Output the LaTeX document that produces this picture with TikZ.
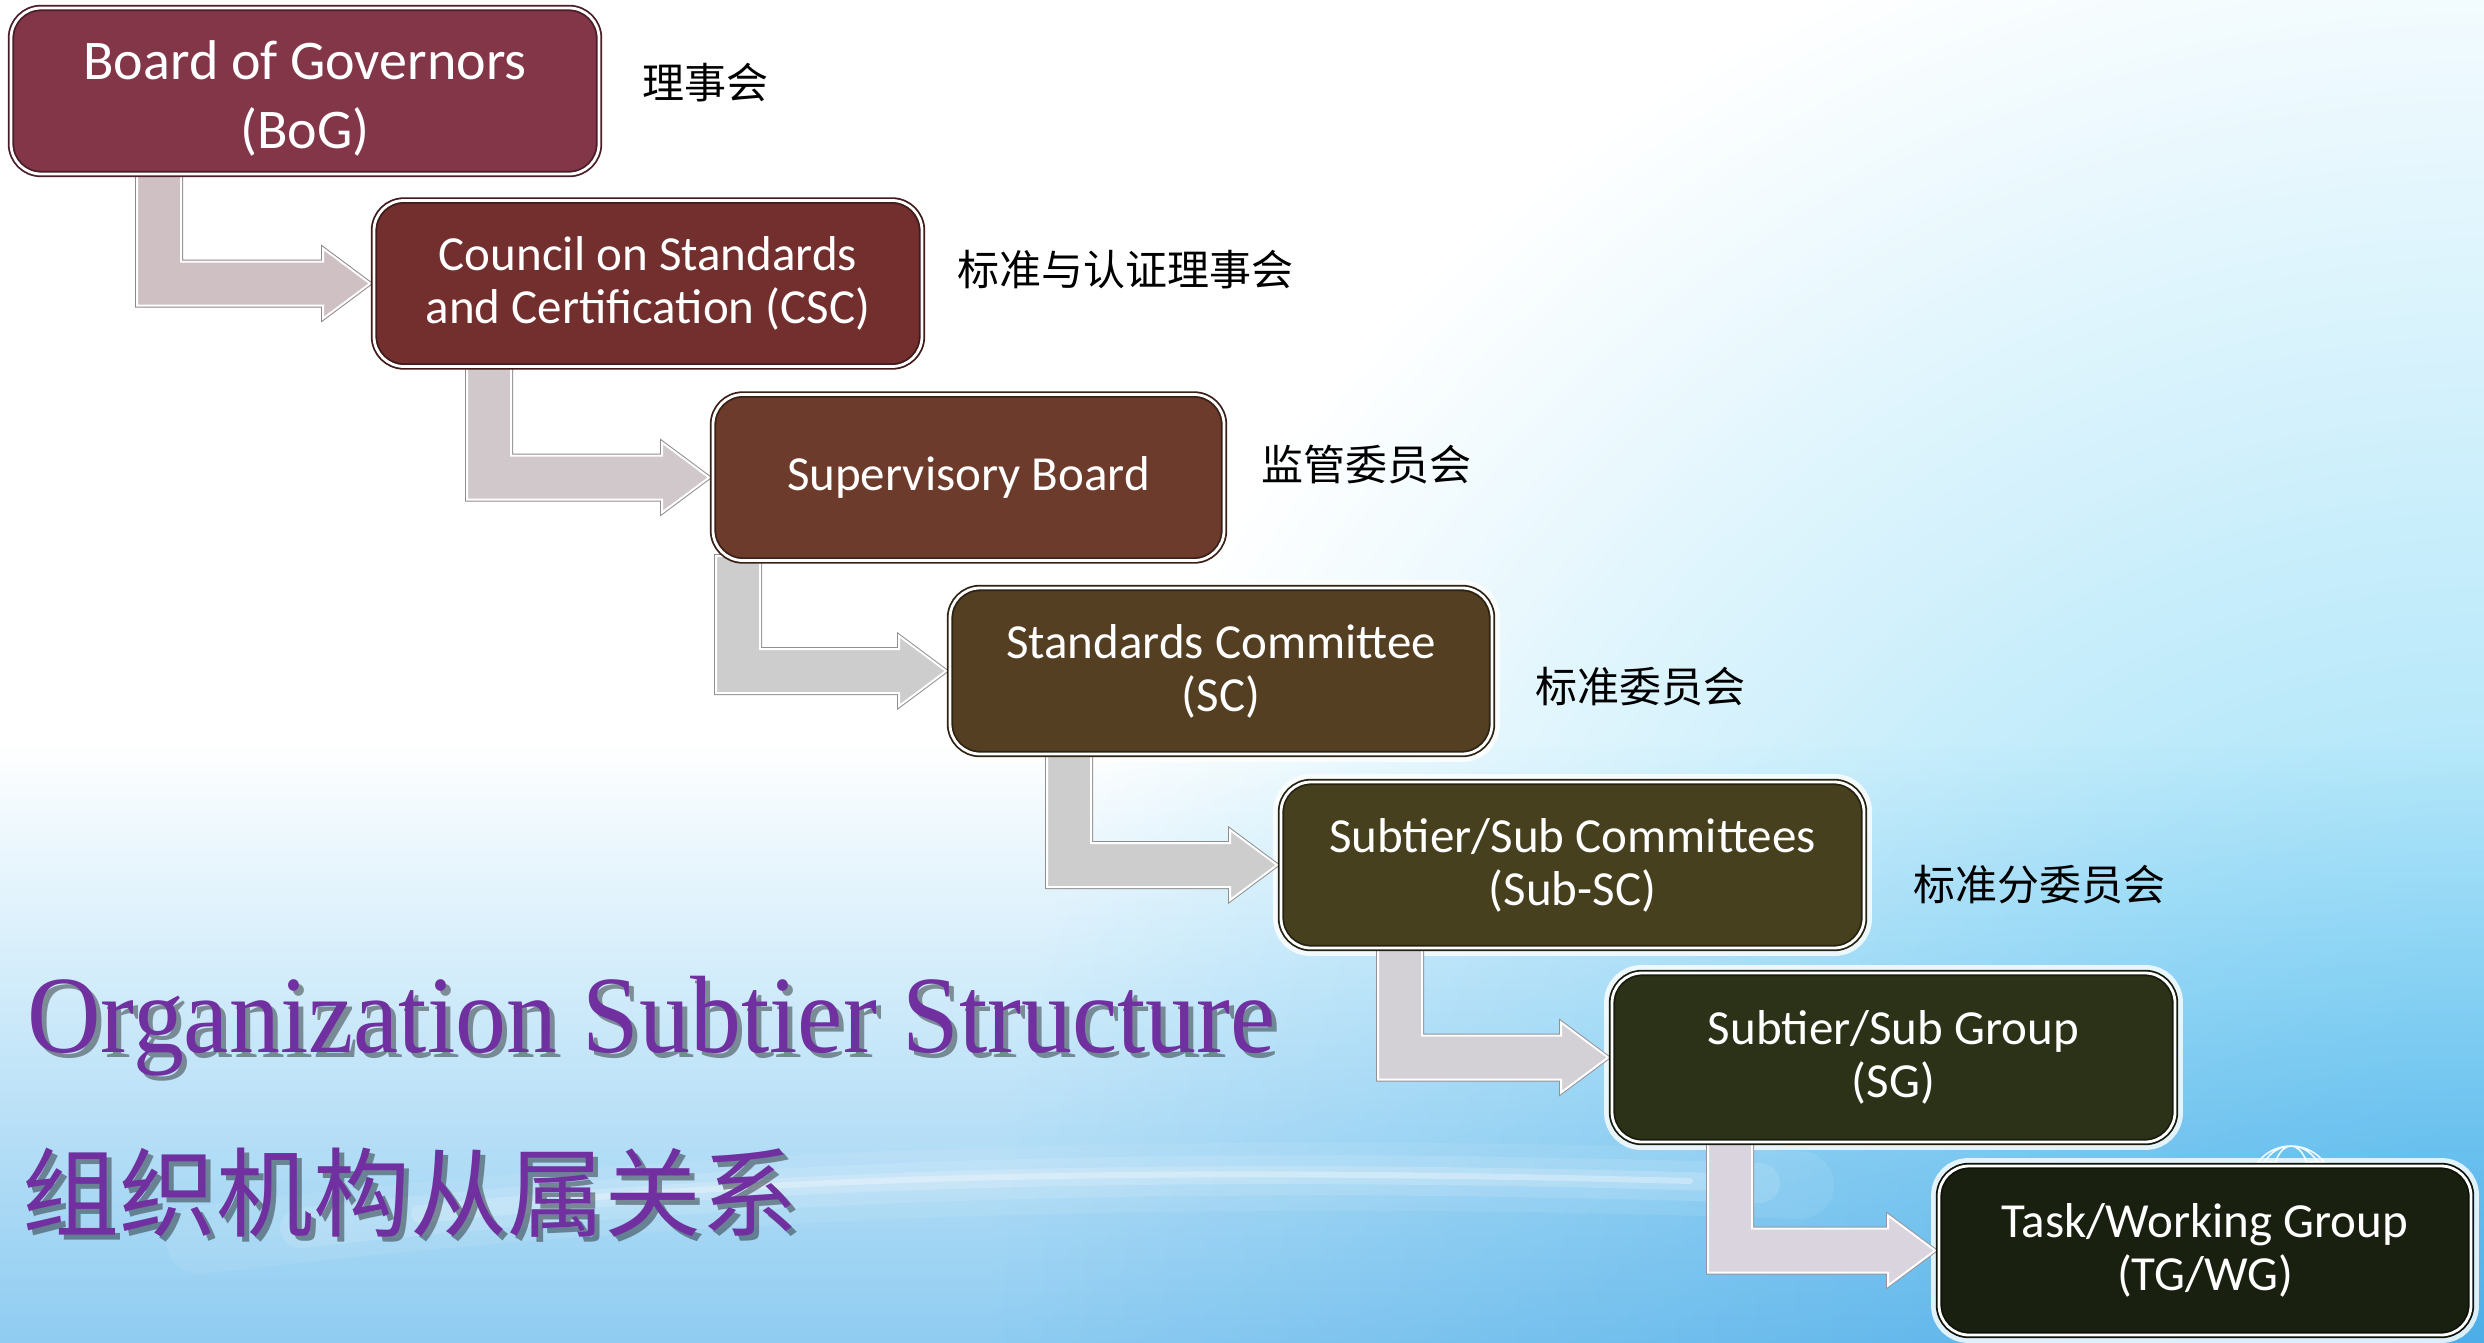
\documentclass[tikz,border=0pt]{standalone}
\usepackage{fontspec}
\usepackage{graphicx}
\usetikzlibrary{calc}
\newfontfamily\boxfont{Carlito}
\newfontfamily\serifttl{Liberation Serif}
\newfontfamily\cjk{Noto Sans CJK SC}
\definecolor{cBoG}{HTML}{843649}
\definecolor{cCSC}{HTML}{722F2E}
\definecolor{cSB}{HTML}{6C3B2C}
\definecolor{cSC}{HTML}{543F22}
\definecolor{cSub}{HTML}{46401F}
\definecolor{cSG}{HTML}{2B3218}
\definecolor{cTG}{HTML}{1A200F}
\definecolor{aOne}{HTML}{CFC0C4}
\definecolor{aTwo}{HTML}{D0C8CA}
\definecolor{aGray}{HTML}{CDCDCD}
\definecolor{aFive}{HTML}{D3D0D6}
\definecolor{aSix}{HTML}{DAD4DE}
\definecolor{skyA}{HTML}{D6EEFB}
\definecolor{skyB}{HTML}{8FCCF1}
\definecolor{skyC}{HTML}{87D9F6}
\definecolor{ttl}{HTML}{7030A0}
\pgfdeclareverticalshading{skyv}{100bp}{color(0bp)=(skyB); color(25bp)=(skyB);
  color(56.75bp)=(skyA); color(75bp)=(white); color(100bp)=(white)}
\pgfdeclarelayer{sky}
\pgfdeclarelayer{under}
\pgfsetlayers{sky,under,main}
\tikzset{
  orgbox/.style={rounded corners=15pt, minimum height=83pt, inner sep=0pt,
    text=white, align=center, fill=#1, draw=#1!55!black, double=white,
    double distance=1.4pt, line width=0.9pt,
    font=\boxfont\fontsize{24.5}{26.5}\selectfont},
  lbl/.style={anchor=base west, inner sep=0pt, font=\cjk\fontsize{21}{21}\selectfont, text=black},
  glow/.style={draw=white, line width=7pt, opacity=0.8, rounded corners=15pt},
  swoosh/.style={white, line cap=round},
}
\newcommand\elbowpath[2]{let \p1=(#1), \p2=(#2.west) in
  (\x1,\y1) -- (\x1+22pt,\y1) -- (\x1+22pt,\y2+11pt) -- (\x2-25pt,\y2+11pt)
  -- (\x2-25pt,\y2+17.5pt) -- (\x2-1.5pt,\y2) -- (\x2-25pt,\y2-17.5pt)
  -- (\x2-25pt,\y2-11pt) -- (\x1,\y2-11pt) -- cycle}
\newcommand\elbow[3]{%
  \draw[line width=2pt, draw=#1!70!black, line join=miter] \elbowpath{#2}{#3};
  \fill[#1] \elbowpath{#2}{#3};
  \draw[white, line width=1pt, line join=miter] \elbowpath{#2}{#3};}
\begin{document}
\begin{tikzpicture}[x=0.5pt,y=-0.5pt]
\useasboundingbox (0,0) rectangle (2484,1343);
% ---------- background ----------
\begin{pgfonlayer}{sky}
  \fill[white] (0,0) rectangle (2484,1343);
  \begin{scope}[blend mode=multiply]
    \shade[shading=skyv] (0,740) rectangle (2484,1343);
    \shade[inner color=skyC, outer color=white] (2484,1343) circle (1500);
  \end{scope}
  \draw[swoosh, line width=34pt, opacity=0.08] (200,1240) .. controls (700,1180) and (1200,1165) .. (1800,1185);
  \draw[swoosh, line width=20pt, opacity=0.12] (300,1228) .. controls (750,1178) and (1200,1165) .. (1760,1183);
  \draw[swoosh, line width=9pt, opacity=0.18] (420,1214) .. controls (800,1176) and (1200,1167) .. (1720,1182);
  \draw[swoosh, line width=3pt, opacity=0.3] (560,1200) .. controls (880,1174) and (1200,1168) .. (1690,1181);
  \begin{scope}
    \clip (2200,1100) rectangle (2400,1163);
    \draw[white, line width=0.8pt, opacity=0.9] (2291,1188) circle (42)
      (2291,1188) ellipse (20 and 42) (2291,1188) ellipse (34 and 42);
    \draw[white, line width=0.8pt, opacity=0.9, rotate around={30:(2291,1188)}] (2291,1188) ellipse (42 and 18);
    \draw[white, line width=0.8pt, opacity=0.9, rotate around={-30:(2291,1188)}] (2291,1188) ellipse (42 and 18);
  \end{scope}
\end{pgfonlayer}
% ---------- boxes ----------
\node[orgbox=cBoG, minimum width=294pt, font=\boxfont\fontsize{28}{34.5}\selectfont] (bog) at (305,91)
  {\rule{0pt}{26.5pt}Board of Governors\\(BoG)};
\node[orgbox=cCSC, minimum width=274pt] (csc) at (648,283.5) {Council on Standards\\and Certification (CSC)};
\node[orgbox=cSB, minimum width=255.5pt] (sb) at (968.5,477.5) {Supervisory Board};
\node[orgbox=cSC, minimum width=271pt] (sc) at (1221,671) {Standards Committee\\(SC)};
\node[orgbox=cSub, minimum width=291.5pt] (subsc) at (1572.5,865) {Subtier/Sub Committees\\(Sub-SC)};
\node[orgbox=cSG, minimum width=281.5pt, minimum height=84.5pt] (sg) at (1893.5,1057.5) {Subtier/Sub Group\\(SG)};
\node[orgbox=cTG, minimum width=266pt, minimum height=84.5pt] (tg) at (2205,1250.5) {Task/Working Group\\(TG/WG)};
% ---------- labels ----------
\node[lbl] (l1) at (642,98) {理事会};
\node[lbl] (l2) at (957,285) {标准与认证理事会};
\node[lbl] (l3) at (1261,480) {监管委员会};
\node[lbl] (l4) at (1535,702) {标准委员会};
\node[lbl] (l5) at (1913,900) {标准分委员会};
% ---------- titles ----------
\node[anchor=base west, inner sep=0pt, text=black, opacity=0.4, font=\serifttl\fontsize{55}{55}\selectfont] at (32,1057) {\scalebox{0.926}[1]{Organization Subtier Structure}};
\node[anchor=base west, inner sep=0pt, text=ttl, font=\serifttl\fontsize{55}{55}\selectfont] (t1) at (27,1052) {\scalebox{0.926}[1]{Organization Subtier Structure}};
\node[anchor=base west, inner sep=0pt, text=black, opacity=0.4, font=\cjk\fontsize{48.5}{48.5}\selectfont] at (27,1234) {组织机构从属关系};
\node[anchor=base west, inner sep=0pt, text=ttl, font=\cjk\fontsize{48.5}{48.5}\selectfont] (t2) at (22,1229) {组织机构从属关系};
% ---------- arrows ----------
\coordinate (s1) at (137,170);
\coordinate (s2) at (467,362);
\coordinate (s3) at (716,556);
\coordinate (s4) at (1047,750);
\coordinate (s5) at (1378,944);
\coordinate (s6) at (1708,1137);
\begin{pgfonlayer}{under}
  \foreach \n in {bog,csc,sb,sc,subsc,sg,tg}
    \draw[glow] (\n.north west) rectangle (\n.south east);
  \elbow{aOne}{s1}{csc}
  \elbow{aTwo}{s2}{sb}
  \elbow{aGray}{s3}{sc}
  \elbow{aGray}{s4}{subsc}
  \elbow{aFive}{s5}{sg}
  \elbow{aSix}{s6}{tg}
\end{pgfonlayer}
\end{tikzpicture}
\end{document}
